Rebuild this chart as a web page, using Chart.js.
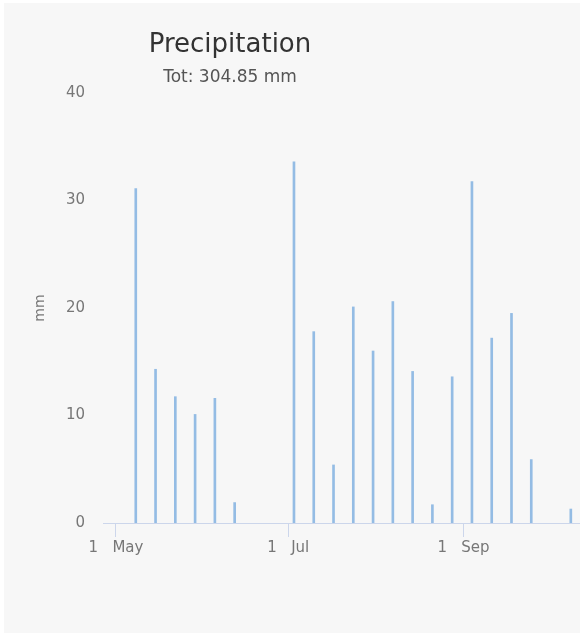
<!DOCTYPE html>
<html>
<head>
<meta charset="utf-8">
<script src="https://cdn.jsdelivr.net/npm/chart.js@4.4.1/dist/chart.umd.min.js"></script>
<style>
  html, body { margin: 0; padding: 0; background: #ffffff; }
  #panel {
    position: absolute; left: 4px; top: 3px;
    width: 576px; height: 630px;
    background: #f7f7f7;
  }
</style>
</head>
<body>
<div id="panel"><canvas id="precip-chart" width="576" height="630"></canvas></div>
<script>
// Weekly precipitation, x = days after 1 May
const DAYS   = [7, 14, 21, 28, 35, 42, 63, 70, 77, 84, 91, 98, 105, 112, 119, 126, 133, 140, 147, 161];
const PRECIP = [31.1, 14.3, 11.75, 10.1, 11.6, 1.9, 33.6, 17.8, 5.4, 20.1, 16.0, 20.6, 14.1, 1.7, 13.6, 31.75, 17.2, 19.5, 5.9, 1.3];

// Month ticks on the x axis
const TICK_DAYS   = [0, 61, 123];
const TICK_LABELS = ['1   May', '1   Jul', '1   Sep'];

const TITLE    = 'Precipitation';
const SUBTITLE = 'Tot: 304.85 mm';

const FONT = '"DejaVu Sans", Verdana, sans-serif';

// Title block sits left of centre, like the original page
const headerText = {
  id: 'headerText',
  afterDraw(chart) {
    const ctx = chart.ctx;
    ctx.save();
    ctx.textAlign = 'center';
    ctx.textBaseline = 'alphabetic';
    ctx.fillStyle = '#333333';
    ctx.font = `26px ${FONT}`;
    ctx.fillText(TITLE, 226, 49);
    ctx.fillStyle = '#555555';
    ctx.font = `17px ${FONT}`;
    ctx.fillText(SUBTITLE, 226, 79);
    ctx.restore();
  },
};

const ctx = document.getElementById('precip-chart').getContext('2d');
new Chart(ctx, {
  type: 'bar',
  data: {
    datasets: [{
      label: 'Precipitation',
      data: DAYS.map((d, i) => ({ x: d, y: PRECIP[i] })),
      backgroundColor: '#94bce4',
      borderWidth: 0,
      barThickness: 2,
    }],
  },
  options: {
    responsive: false,
    animation: false,
    layout: { padding: { left: 28, top: 90, right: 0, bottom: 60 } },
    plugins: {
      legend: { display: false },
      tooltip: { enabled: false },
    },
    scales: {
      x: {
        type: 'linear',
        min: -4.6,
        max: 164.25,
        offset: false,
        afterFit: s => { s.height = 50; },
        afterBuildTicks: s => { s.ticks = TICK_DAYS.map(v => ({ value: v })); },
        grid: {
          display: true,
          offset: false,
          drawOnChartArea: false,
          drawTicks: true,
          tickLength: 14,
          color: '#ccd6eb',
        },
        border: { display: true, color: '#ccd6eb', width: 1 },
        ticks: {
          autoSkip: false,
          maxRotation: 0,
          padding: 2,
          color: '#777777',
          font: { family: FONT, size: 15 },
          callback: v => {
            const i = TICK_DAYS.indexOf(v);
            return i >= 0 ? TICK_LABELS[i] : '';
          },
        },
      },
      y: {
        min: 0,
        max: 40,
        afterFit: s => { s.width = 71; },
        grid: { display: false, drawTicks: false },
        border: { display: false },
        ticks: {
          stepSize: 10,
          padding: 18,
          color: '#777777',
          font: { family: FONT, size: 15 },
        },
        title: {
          display: true,
          text: 'mm',
          color: '#777777',
          padding: 0,
          font: { family: FONT, size: 14 },
        },
      },
    },
  },
  plugins: [headerText],
});
</script>
</body>
</html>
